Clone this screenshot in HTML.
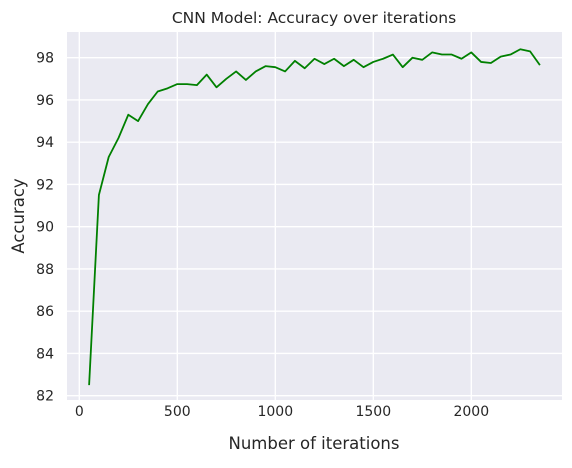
<!DOCTYPE html>
<html><head><meta charset="utf-8"><style>
body{margin:0;background:#fff;}
svg text{font-family:"DejaVu Sans","Liberation Sans",sans-serif;fill:#262626;}
</style></head><body>
<svg id="chart" width="572" height="463" viewBox="0 0 572 463" xmlns="http://www.w3.org/2000/svg">
<rect x="67" y="32" width="495" height="368" fill="#eaeaf2"/>
<g id="grid"></g>
<g id="ticks"></g>
<polyline id="line" fill="none" stroke="#008000" stroke-width="1.8" stroke-linejoin="round"/>
<text x="314" y="23" font-size="15.5" text-anchor="middle">CNN Model: Accuracy over iterations</text>
<text x="314" y="449" font-size="16.5" text-anchor="middle">Number of iterations</text>
<text transform="translate(24,216) rotate(-90)" font-size="16.5" text-anchor="middle">Accuracy</text>
</svg>
<script>
const iterations=[50,100,150,200,250,300,350,400,450,500,550,600,650,700,750,800,850,900,950,1000,1050,1100,1150,1200,1250,1300,1350,1400,1450,1500,1550,1600,1650,1700,1750,1800,1850,1900,1950,2000,2050,2100,2150,2200,2250,2300,2350];
const accuracy=[82.5,91.5,93.3,94.2,95.3,95.0,95.8,96.4,96.55,96.75,96.75,96.7,97.2,96.6,97.0,97.35,96.95,97.35,97.6,97.55,97.35,97.85,97.5,97.95,97.7,97.95,97.6,97.9,97.55,97.8,97.95,98.15,97.55,98.0,97.9,98.25,98.15,98.15,97.95,98.25,97.8,97.75,98.05,98.15,98.4,98.3,97.65];
const xTicks=[0,500,1000,1500,2000];
const yTicks=[82,84,86,88,90,92,94,96,98];
const X=v=>79.3+v*0.196;
const Y=v=>57.7+(98-v)*21.125;
const NS="http://www.w3.org/2000/svg";
const grid=document.getElementById('grid'),ticks=document.getElementById('ticks');
xTicks.forEach(t=>{
 const l=document.createElementNS(NS,'line');
 
 
 l.setAttribute('x1',X(t));l.setAttribute('x2',X(t));l.setAttribute('y1',32);l.setAttribute('y2',400);
 l.setAttribute('stroke','#fff');l.setAttribute('stroke-width','1.4');grid.appendChild(l);
 const tx=document.createElementNS(NS,'text');
 
 
 tx.setAttribute('x',X(t));tx.setAttribute('y',416);tx.setAttribute('font-size','14');tx.setAttribute('text-anchor','middle');
 tx.textContent=t;ticks.appendChild(tx);
});
yTicks.forEach(t=>{
 const l=document.createElementNS(NS,'line');
 
 
 l.setAttribute('x1',67);l.setAttribute('x2',562);l.setAttribute('y1',Y(t));l.setAttribute('y2',Y(t));
 l.setAttribute('stroke','#fff');l.setAttribute('stroke-width','1.4');grid.appendChild(l);
 const tx=document.createElementNS(NS,'text');
 
 
 tx.setAttribute('x',54);tx.setAttribute('y',Y(t)+5);tx.setAttribute('font-size','14');tx.setAttribute('text-anchor','end');
 tx.textContent=t;ticks.appendChild(tx);
});
document.getElementById('line').setAttribute('points',iterations.map((v,i)=>X(v)+','+Y(accuracy[i])).join(' '));
</script>
</body></html>
